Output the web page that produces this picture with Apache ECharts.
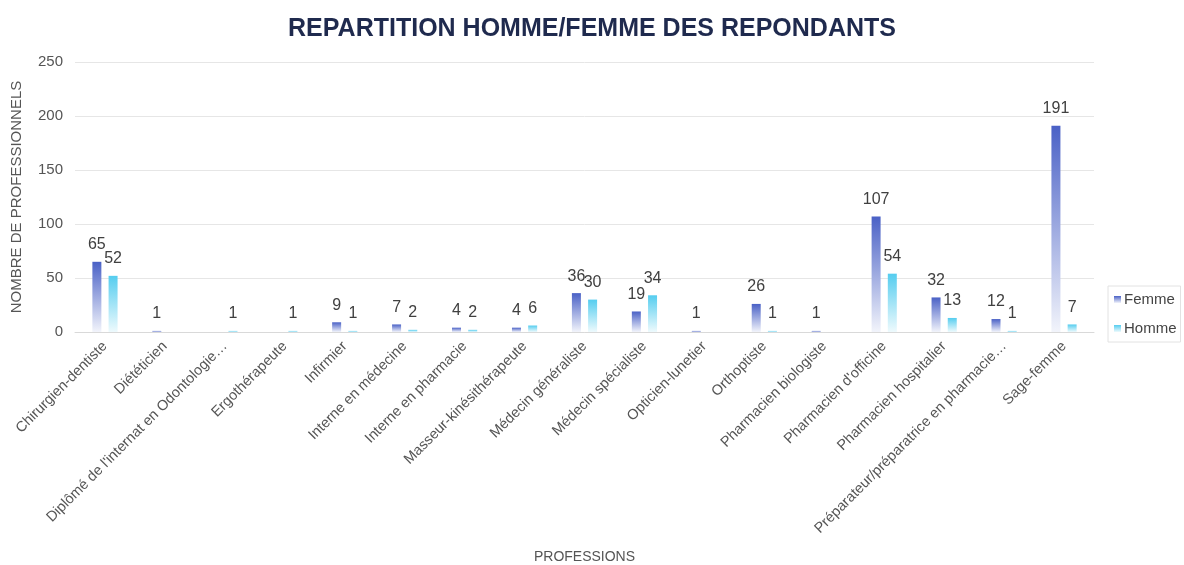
<!DOCTYPE html>
<html>
<head>
<meta charset="utf-8">
<script src="https://cdn.jsdelivr.net/npm/echarts@6/dist/echarts.min.js"></script>
<style>
  html, body { margin: 0; padding: 0; background: #fff; }
  #chart { width: 1184px; height: 565px; }
</style>
</head>
<body>
<div id="chart"></div>
<script>
// professions (x axis)
var professions = [
  'Chirurgien-dentiste', 'Diététicien', "Diplômé de l'internat en Odontologie…",
  'Ergothérapeute', 'Infirmier', 'Interne en médecine', 'Interne en pharmacie',
  'Masseur-kinésithérapeute', 'Médecin généraliste', 'Médecin spécialiste',
  'Opticien-lunetier', 'Orthoptiste', 'Pharmacien biologiste', "Pharmacien d'officine",
  'Pharmacien hospitalier', 'Préparateur/préparatrice en pharmacie…', 'Sage-femme'
];
var femme = [65, 1, null, null, 9, 7, 4, 4, 36, 19, 1, 26, 1, 107, 32, 12, 191];
var homme = [52, null, 1, 1, 1, 2, 2, 6, 30, 34, null, 1, null, 54, 13, 1, 7];
var yTicks = [0, 50, 100, 150, 200, 250];

var myChart = echarts.init(document.getElementById('chart'));

function grad(top, bottom) {
  return new echarts.graphic.LinearGradient(0, 0, 0, 1, [
    { offset: 0, color: top },
    { offset: 1, color: bottom }
  ]);
}

var labelStyle = {
  show: true,
  position: 'top',
  distance: 9,
  color: '#404040',
  fontSize: 16,
  fontFamily: 'Liberation Sans'
};

var option = {
  backgroundColor: '#fff',
  textStyle: { fontFamily: 'Liberation Sans' },
  title: {
    text: 'REPARTITION HOMME/FEMME DES REPONDANTS',
    left: 'center',
    top: 12,
    textStyle: { color: '#1f2a4e', fontSize: 25, fontWeight: 'bold', fontFamily: 'Liberation Sans' }
  },
  legend: {
    orient: 'vertical',
    left: 1108,
    top: 286,
    padding: [6, 4, 6, 6],
    itemGap: 14,
    itemWidth: 7,
    itemHeight: 7,
    icon: 'rect',
    borderColor: '#e2e2e2',
    borderWidth: 1,
    textStyle: { color: '#444', fontSize: 15, padding: [0, 0, 0, -2] },
    data: ['Femme', 'Homme']
  },
  grid: { left: 75, right: 90, top: 62, bottom: 232, containLabel: false },
  xAxis: {
    type: 'category',
    data: professions,
    name: 'PROFESSIONS',
    nameLocation: 'middle',
    nameGap: 218,
    nameTextStyle: { color: '#555', fontSize: 14 },
    axisLine: { lineStyle: { color: '#d9d9d9' } },
    axisTick: { show: false },
    axisLabel: { rotate: 45, interval: 0, color: '#555', fontSize: 14.5, margin: 12 }
  },
  yAxis: {
    type: 'value',
    min: yTicks[0],
    max: yTicks[yTicks.length - 1],
    interval: 50,
    name: 'NOMBRE DE PROFESSIONNELS',
    nameLocation: 'middle',
    nameGap: 51,
    nameTextStyle: { color: '#555', fontSize: 15 },
    axisLabel: { color: '#555', fontSize: 15, margin: 12 },
    splitLine: { lineStyle: { color: '#e6e6e6' } },
    axisLine: { show: false },
    axisTick: { show: false }
  },
  series: [
    {
      name: 'Femme',
      type: 'bar',
      data: femme,
      barWidth: 9,
      barGap: '80%',
      itemStyle: { color: grad('#4a61c6', '#f2f4fb') },
      label: labelStyle
    },
    {
      name: 'Homme',
      type: 'bar',
      data: homme,
      barWidth: 9,
      itemStyle: { color: grad('#55cdef', '#eefafd') },
      label: labelStyle
    }
  ]
};

myChart.setOption(option);
</script>
</body>
</html>
